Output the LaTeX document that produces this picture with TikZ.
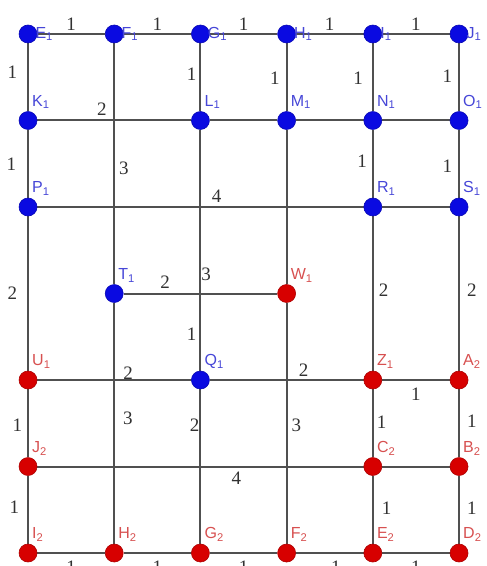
\documentclass[tikz,border=0pt]{standalone}
\usepackage{fontspec}
\usepackage{tikz}
\usetikzlibrary{backgrounds}
\newfontfamily\namefont{Liberation Sans}
\newfontfamily\weightfont{Liberation Serif}
\definecolor{vertexblue}{RGB}{10, 10, 225}
\definecolor{vertexred}{RGB}{215, 0, 0}
\definecolor{nameblue}{RGB}{70, 70, 215}
\definecolor{namered}{RGB}{215, 80, 80}
\definecolor{edgegray}{RGB}{80, 80, 80}
\definecolor{weightgray}{RGB}{50, 50, 50}
\tikzset{
    vtx/.style={circle, minimum size=18pt, inner sep=0pt, line width=0.6pt},
    bvtx/.style={vtx, fill=vertexblue, draw=vertexblue!80!black},
    rvtx/.style={vtx, fill=vertexred, draw=vertexred!80!black},
    nm/.style={font=\namefont\fontsize{16}{18}\selectfont, inner sep=0pt},
    tname/.style={label={[nm, text=nameblue, anchor=west, label distance=-2pt]0:#1}},
    bname/.style={label={[nm, text=nameblue, anchor=south west, xshift=4pt, label distance=2pt]90:#1}},
    rname/.style={label={[nm, text=namered, anchor=south west, xshift=4pt, label distance=2pt]90:#1}}
}

\begin{document}
\begin{tikzpicture}[
    x=86.2pt, y=-86.5pt,
    edge/.style={draw=edgegray, line width=2pt},
    wt/.style={font=\weightfont\fontsize{19}{20}\selectfont, text=weightgray, inner sep=0pt}
]
    \useasboundingbox (-0.325,-0.393) rectangle (5.313,6.150);

    % top row
    \node[bvtx, tname={E\textsubscript{1}}] (E1) at (0,0) {};
    \node[bvtx, tname={F\textsubscript{1}}] (F1) at (1,0) {};
    \node[bvtx, tname={G\textsubscript{1}}] (G1) at (2,0) {};
    \node[bvtx, tname={H\textsubscript{1}}] (H1) at (3,0) {};
    \node[bvtx, tname={I\textsubscript{1}}] (I1) at (4,0) {};
    \node[bvtx, tname={J\textsubscript{1}}] (J1) at (5,0) {};

    \node[bvtx, bname={K\textsubscript{1}}] (K1) at (0,1) {};
    \node[bvtx, bname={L\textsubscript{1}}] (L1) at (2,1) {};
    \node[bvtx, bname={M\textsubscript{1}}] (M1) at (3,1) {};
    \node[bvtx, bname={N\textsubscript{1}}] (N1) at (4,1) {};
    \node[bvtx, bname={O\textsubscript{1}}] (O1) at (5,1) {};

    \node[bvtx, bname={P\textsubscript{1}}] (P1) at (0,2) {};
    \node[bvtx, bname={R\textsubscript{1}}] (R1) at (4,2) {};
    \node[bvtx, bname={S\textsubscript{1}}] (S1) at (5,2) {};

    \node[bvtx, bname={T\textsubscript{1}}] (T1) at (1,3) {};
    \node[rvtx, rname={W\textsubscript{1}}] (W1) at (3,3) {};

    \node[rvtx, rname={U\textsubscript{1}}] (U1) at (0,4) {};
    \node[bvtx, bname={Q\textsubscript{1}}] (Q1) at (2,4) {};
    \node[rvtx, rname={Z\textsubscript{1}}] (Z1) at (4,4) {};
    \node[rvtx, rname={A\textsubscript{2}}] (A2) at (5,4) {};

    \node[rvtx, rname={J\textsubscript{2}}] (J2) at (0,5) {};
    \node[rvtx, rname={C\textsubscript{2}}] (C2) at (4,5) {};
    \node[rvtx, rname={B\textsubscript{2}}] (B2) at (5,5) {};

    % bottom row
    \node[rvtx, rname={I\textsubscript{2}}] (I2) at (0,6) {};
    \node[rvtx, rname={H\textsubscript{2}}] (H2) at (1,6) {};
    \node[rvtx, rname={G\textsubscript{2}}] (G2) at (2,6) {};
    \node[rvtx, rname={F\textsubscript{2}}] (F2) at (3,6) {};
    \node[rvtx, rname={E\textsubscript{2}}] (E2) at (4,6) {};
    \node[rvtx, rname={D\textsubscript{2}}] (D2) at (5,6) {};

    \begin{scope}[on background layer]
        % horizontal edges
        \draw[edge] (E1) -- node[wt, above=2pt] {1} (F1) -- node[wt, above=2pt] {1} (G1)
            -- node[wt, above=2pt] {1} (H1) -- node[wt, above=2pt] {1} (I1) -- node[wt, above=2pt] {1} (J1);
        \draw[edge] (K1) -- node[wt, above=4pt, pos=0.42] {2} (L1) -- (M1) -- (N1) -- (O1);
        \draw[edge] (P1) -- node[wt, above=4pt, pos=0.55] {4} (R1) -- (S1);
        \draw[edge] (T1) -- node[wt, above=4pt, pos=0.27] {2} (W1);
        \draw[edge] (U1) -- node[wt, above=0pt, pos=0.59] {2} (Q1) -- node[wt, above=3pt, pos=0.61] {2} (Z1)
            -- node[wt, below=7pt] {1} (A2);
        \draw[edge] (J2) -- node[wt, below=4pt, pos=0.61] {4} (C2) -- (B2);
        \draw[edge] (I2) -- node[wt, below=7pt] {1} (H2) -- node[wt, below=7pt] {1} (G2)
            -- node[wt, below=7pt] {1} (F2) -- node[wt, below=7pt, pos=0.59] {1} (E2) -- node[wt, below=7pt] {1} (D2);
        % vertical edges
        \draw[edge] (E1) -- node[wt, left=10pt, pos=0.43] {1} (K1) -- node[wt, left=11pt, pos=0.51] {1} (P1)
            -- node[wt, left=10pt] {2} (U1) -- node[wt, left=5pt, pos=0.53] {1} (J2) -- node[wt, left=8pt, pos=0.46] {1} (I2);
        \draw[edge] (F1) -- node[wt, right=4pt, pos=0.52] {3} (T1) -- node[wt, right=8pt, pos=0.48] {3} (H2);
        \draw[edge] (G1) -- node[wt, left=3pt, pos=0.46] {1} (L1)
            -- node[wt, right=0pt, pos=0.6] {3} node[wt, left=3pt, pos=0.85] {1} (Q1)
            -- node[wt, left=0pt, pos=0.23] {2} (G2);
        \draw[edge] (H1) -- node[wt, left=6pt, pos=0.52] {1} (M1) -- (W1) -- node[wt, right=4pt, pos=0.51] {3} (F2);
        \draw[edge] (I1) -- node[wt, left=9pt, pos=0.52] {1} (N1) -- node[wt, left=5pt, pos=0.47] {1} (R1)
            -- node[wt, right=5pt, pos=0.48] {2} (Z1) -- node[wt, right=3pt, pos=0.49] {1} (C2) -- node[wt, right=8pt, pos=0.48] {1} (E2);
        \draw[edge] (J1) -- node[wt, left=6pt, pos=0.49] {1} (O1) -- node[wt, left=6pt, pos=0.54] {1} (S1)
            -- node[wt, right=7pt, pos=0.48] {2} (A2) -- node[wt, right=7pt, pos=0.47] {1} (B2) -- node[wt, right=7pt, pos=0.48] {1} (D2);
    \end{scope}

\end{tikzpicture}
\end{document}
